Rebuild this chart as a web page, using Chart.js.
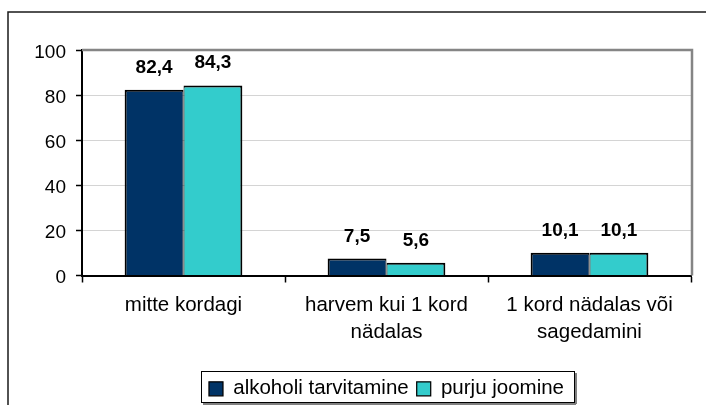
<!DOCTYPE html>
<html>
<head>
<meta charset="utf-8">
<script src="https://cdn.jsdelivr.net/npm/chart.js@4/dist/chart.umd.min.js"></script>
<style>
  html, body { margin: 0; padding: 0; background: #fff; }
  #wrap { position: relative; width: 706px; height: 405px; }
</style>
</head>
<body>
<div id="wrap"><canvas id="c"></canvas></div>
<script>
const categories = [['mitte kordagi'], ['harvem kui 1 kord', 'nädalas'], ['1 kord nädalas või', 'sagedamini']];
const seriesNames = ['alkoholi tarvitamine', 'purju joomine'];
const alkoholiValues = [82.4, 7.5, 10.1];
const purjuValues = [84.3, 5.6, 10.1];
const yTickValues = [0, 20, 40, 60, 80, 100];

const FONT = "'Liberation Sans', Arial, sans-serif";

const fmt = v => v.toFixed(1).replace('.', ',');

const framePlugin = {
  id: 'frame',
  beforeDraw(chart) {
    const ctx = chart.ctx;
    ctx.save();
    ctx.fillStyle = '#fff';
    ctx.fillRect(0, 0, chart.width, chart.height);
    ctx.strokeStyle = '#1a1a1a';
    ctx.lineWidth = 1.5;
    ctx.beginPath();
    ctx.moveTo(chart.width, 12);
    ctx.lineTo(8, 12);
    ctx.lineTo(8, chart.height);
    ctx.stroke();
    ctx.restore();
  },
  beforeDatasetsDraw(chart) {
    const {ctx, chartArea: a} = chart;
    ctx.save();
    ctx.strokeStyle = '#858585';
    ctx.lineWidth = 2.5;
    ctx.beginPath();
    ctx.moveTo(a.left, a.top);
    ctx.lineTo(a.right + 1, a.top);
    ctx.lineTo(a.right + 1, a.bottom);
    ctx.stroke();
    ctx.restore();
  },
  afterDatasetsDraw(chart) {
    const ctx = chart.ctx;
    ctx.save();
    ctx.font = 'bold 19px ' + FONT;
    ctx.fillStyle = '#000';
    ctx.textAlign = 'center';
    ctx.textBaseline = 'alphabetic';
    chart.data.datasets.forEach((ds, di) => {
      chart.getDatasetMeta(di).data.forEach((bar, i) => {
        ctx.fillText(fmt(ds.data[i]), bar.x, bar.y - 17);
      });
    });
    ctx.restore();
  },
  afterDraw(chart) {
    const lg = chart.legend;
    if (!lg || !lg.legendHitBoxes || !lg.legendHitBoxes.length) return;
    const hb = lg.legendHitBoxes;
    const left = Math.min(...hb.map(h => h.left)) - 8;
    const right = Math.max(...hb.map(h => h.left + h.width)) + 10;
    const top = hb[0].top - 8;
    const bottom = hb[0].top + hb[0].height + 2.5;
    const ctx = chart.ctx;
    ctx.save();
    ctx.fillStyle = '#808080';
    ctx.fillRect(Math.round(left) + 2, Math.round(bottom) + 1, Math.round(right - left), 2);
    ctx.fillRect(Math.round(right) + 1, Math.round(top) + 2, 2, Math.round(bottom - top));
    ctx.strokeStyle = '#000';
    ctx.lineWidth = 1;
    ctx.strokeRect(Math.round(left) + 0.5, Math.round(top) + 0.5, Math.round(right - left), Math.round(bottom - top));
    ctx.restore();
  }
};

new Chart(document.getElementById('c'), {
  type: 'bar',
  data: {
    labels: categories,
    datasets: [
      {
        label: seriesNames[0],
        data: alkoholiValues,
        backgroundColor: '#003366',
        borderColor: '#000',
        borderWidth: {left: 2, right: 1, top: 2, bottom: 0},
        borderSkipped: false,
        categoryPercentage: 0.58,
        barPercentage: 1.0
      },
      {
        label: seriesNames[1],
        data: purjuValues,
        backgroundColor: '#33CCCC',
        borderColor: '#000',
        borderWidth: {left: 1, right: 2, top: 2, bottom: 0},
        borderSkipped: false,
        categoryPercentage: 0.58,
        barPercentage: 1.0
      }
    ]
  },
  options: {
    responsive: true,
    maintainAspectRatio: false,
    animation: false,
    events: [],
    layout: { padding: { left: 0, right: 15, top: 50, bottom: -4 } },
    plugins: {
      tooltip: { enabled: false },
      title: { display: false },
      legend: {
        display: true,
        position: 'bottom',
        fullSize: false,
        labels: {
          color: '#000',
          font: { family: FONT, size: 20.5 },
          boxWidth: 14,
          boxHeight: 14,
          padding: 8
        }
      }
    },
    scales: {
      x: {
        type: 'category',
        afterFit(s) { s.height = 95; },
        grid: {
          display: true,
          offset: true,
          drawOnChartArea: false,
          drawTicks: true,
          tickLength: 7,
          tickColor: '#000',
          tickWidth: 1.5
        },
        border: { display: true, color: '#000', width: 2 },
        ticks: {
          color: '#000',
          font: { family: FONT, size: 20.5, lineHeight: 1.3 },
          padding: 10,
          maxRotation: 0,
          autoSkip: false
        }
      },
      y: {
        min: 0,
        max: 100,
        afterFit(s) { s.width = 82; },
        afterBuildTicks(s) { s.ticks = yTickValues.map(v => ({ value: v })); },
        grid: {
          color: '#d4d4d4',
          lineWidth: 1,
          drawTicks: true,
          tickLength: 6,
          tickColor: '#000',
          tickWidth: 1.5
        },
        border: { display: true, color: '#000', width: 2 },
        ticks: {
          color: '#000',
          font: { family: FONT, size: 19 },
          padding: 10,
          labelOffset: 2.5
        }
      }
    }
  },
  plugins: [framePlugin]
});
</script>
</body>
</html>
